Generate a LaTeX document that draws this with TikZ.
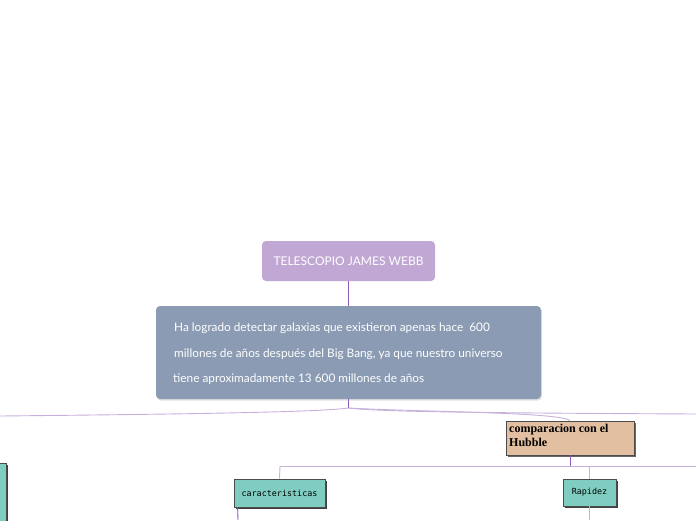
\documentclass[tikz,border=0pt]{standalone}
\usepackage{fontspec}
\setmainfont{Lato}
\newfontfamily\monof{DejaVu Sans Mono}
\newfontfamily\serifb{Liberation Serif}
\usetikzlibrary{shadows,positioning}
\definecolor{titlefill}{HTML}{C1A7D3}
\definecolor{mainfill}{HTML}{8A9BB3}
\definecolor{tealfill}{HTML}{7FCDC0}
\definecolor{tanfill}{HTML}{E2BFA0}
\definecolor{linedark}{HTML}{8E5CB5}
\definecolor{linelight}{HTML}{C6B0DC}
\tikzset{
  titlebox/.style={rounded corners=4pt, fill=titlefill, text=white, font=\fontsize{12}{14}\selectfont, minimum width=173pt, minimum height=40pt, inner sep=0pt},
  mainbox/.style={rounded corners=4pt, fill=mainfill, text=white, minimum width=385pt, minimum height=93pt, inner sep=0pt,
     general shadow={fill=black!12, shadow xshift=1pt, shadow yshift=-1.5pt}},
  maintext/.style={anchor=west, text=white, font=\fontsize{11.8}{14}\selectfont, inner sep=0pt},
  tealbox/.style={draw=black!70, line width=0.8pt, fill=tealfill, font=\monof\fontsize{8.4}{10}\selectfont, inner sep=0pt,
     general shadow={fill=black!75, shadow xshift=2pt, shadow yshift=-2pt}},
  tanbox/.style={draw=black!70, line width=0.8pt, fill=tanfill, inner sep=0pt,
     general shadow={fill=black!60, shadow xshift=2pt, shadow yshift=-2pt}},
  dk/.style={draw=linedark, line width=0.9pt},
  lt/.style={draw=linelight, line width=0.9pt},
}
\begin{document}
\begin{tikzpicture}[x=1pt,y=-1pt]
\useasboundingbox (0,0) rectangle (696,520);
\node[titlebox] (title) at (348.5,261) {TELESCOPIO JAMES WEBB};
\node[mainbox] (main) at (348.5,352.5) {};
\node[maintext] (l1) at (174,328) {Ha logrado detectar galaxias que existieron apenas hace\ \ 600};
\node[maintext] (l2) at (174,354) {millones de años después del Big Bang, ya que nuestro universo};
\node[maintext] (l3) at (173,379) {tiene aproximadamente 13 600 millones de años};

\node[tanbox, minimum width=128pt, minimum height=34pt] (cmp) at (570,438) {};
\node[anchor=north west, inner sep=0pt, font=\serifb\bfseries\fontsize{12}{14}\selectfont, align=left] (cmpt) at (509,424) {comparacion con el\\Hubble};

\node[tealbox, minimum width=91pt, minimum height=28pt] (car) at (279.5,493) {caracteristicas};
\node[tealbox, minimum width=53pt, minimum height=27pt] (rap) at (589.5,492.5) {Rapidez};
\node[tealbox, minimum width=40pt, minimum height=70pt] (left) at (-14,498) {};

\coordinate (j) at (348.5,408);
\coordinate (lend) at (0,416);
\coordinate (rend) at (696,414);
\coordinate (h1) at (280,466);
\coordinate (h2) at (570,466);
\coordinate (h3) at (589.5,466);
\coordinate (hend) at (696,466);
\coordinate (cb) at (238,520);
\coordinate (rb) at (589.5,520);

\draw[dk] (title.south) -- (main.north);
\draw[dk] (main.south) -- (j);
\draw[lt] (j) .. controls (320,412) and (200,414) .. (lend);
\draw[lt] (j) .. controls (380,412) and (500,413) .. (rend);
\draw[lt] (j) .. controls (420,412) and (560,412) .. (cmp.north);
\draw[dk] (cmp.south) -- (h2);
\draw[lt] (h1) -- (hend);
\draw[lt] (h2) -- (h3) -- (rap.north);
\draw[lt] (h1) -- (car.north);
\draw[dk] (car.south west) ++(4,0) coordinate (cs) -- (cb);
\draw[lt] (rap.south) -- (rb);
\end{tikzpicture}
\end{document}
